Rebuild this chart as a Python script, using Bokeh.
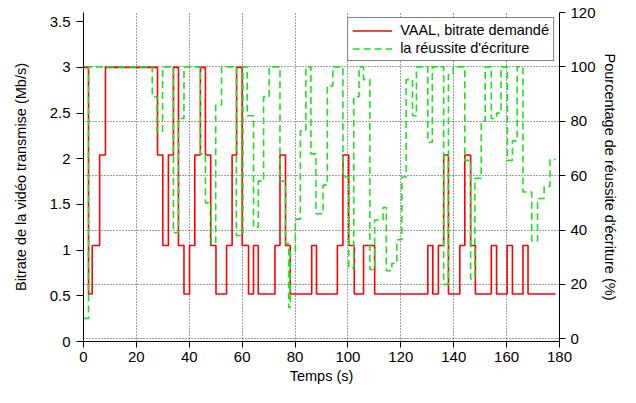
from bokeh.plotting import figure
from bokeh.models import (Range1d, LinearAxis, SingleIntervalTicker, Grid,
                          NumeralTickFormatter, Legend, LegendItem)
from bokeh.embed import file_html
from bokeh.resources import INLINE

# ---------------- data ----------------
# requested bitrate (Mb/s), step changes: time (s) -> level
red_t = [0, 1.9, 3.3, 6.1, 8.3, 28.0, 30.0, 32.1, 34.0, 35.9, 38.0, 40.1, 42.1,
         44.2, 46.1, 48.1, 50.1, 54.1, 56.2, 57.9, 60.0, 62.4, 64.3, 66.1, 72.4,
         74.3, 76.4, 78.2, 86.3, 88.1, 96.0, 98.1, 100.3, 102.4, 105.9, 110.1,
         130.2, 132.1, 134.2, 136.2, 138.0, 142.3, 144.2, 146.4, 148.2, 154.2,
         156.2, 160.2, 162.2, 166.2, 168.1, 178.5]
red_v = [3.0, 0.52, 1.05, 2.04, 3.0, 2.04, 1.05, 2.04, 3.0, 1.05, 0.52, 1.05, 2.04,
         3.0, 2.04, 1.05, 0.52, 1.05, 2.04, 3.0, 1.05, 0.52, 1.05, 0.52, 1.05,
         2.04, 1.05, 0.52, 1.05, 0.52, 1.05, 2.04, 1.05, 0.52, 1.05, 0.52,
         1.05, 0.52, 1.05, 2.04, 0.52, 1.05, 2.04, 1.05, 0.52, 1.05,
         0.52, 1.05, 0.52, 1.05, 0.52, 0.52]

# write success percentage (%), step changes: time (s) -> level
green_t = [0, 1.9, 26.0, 27.8, 29.9, 34.0, 35.9, 38.0, 44.2, 46.1, 48.3, 50.0,
           52.2, 57.8, 60.3, 61.9, 64.3, 66.1, 68.1, 70.2, 74.3, 76.4, 77.6,
           78.2, 80.1, 82.0, 84.1, 86.0, 87.9, 90.6, 92.2, 94.3, 98.1, 100.3,
           102.2, 104.2, 105.9, 108.3, 110.1, 113.3, 114.5, 116.6, 118.5,
           120.4, 122.0, 124.4, 125.9, 130.2, 131.9, 136.2, 138.0, 139.8,
           144.2, 146.4, 148.0, 150.4, 151.9, 154.2, 156.2, 157.9, 160.3,
           162.2, 164.0, 166.2, 169.5, 171.7, 174.2, 176.4, 178.5]
green_v = [7.5, 100, 89, 76, 100, 39, 81, 100, 68, 50, 35, 86,
           100, 38, 100, 82, 41, 58, 89, 100, 58, 35, 11.5,
           32, 44, 76.5, 100, 68, 46, 56.5, 93, 100, 59.5, 26,
           89, 100, 95.3, 25.5, 43.7, 48.3, 25, 27.7, 36.4,
           59.5, 95.3, 82, 100, 72.3, 100, 20, 97.2, 100,
           65.6, 22, 59, 80, 100, 81, 83, 100, 65.6,
           72.8, 100, 54, 36, 51.6, 56, 66, 66]

x_label = "Temps (s)"
y_label = "Bitrate de la vidéo transmise (Mb/s)"
y2_label = "Pourcentage de réussite d'écriture (%)"
legend_labels = ["VAAL, bitrate demandé", "la réussite d'écriture"]

FONT = "Liberation Sans"

p = figure(width=620, height=387, output_backend="svg", toolbar_location=None,
           x_range=Range1d(0, 180), y_range=Range1d(0, 3.6),
           min_border_left=83, min_border_right=58, min_border_top=12,
           min_border_bottom=46)
p.extra_y_ranges = {"pct": Range1d(-1, 120)}
p.outline_line_color = None
p.background_fill_color = "white"
p.border_fill_color = "white"

right = LinearAxis(y_range_name="pct")
p.add_layout(right, "right")

p.xaxis.ticker = SingleIntervalTicker(interval=20, num_minor_ticks=0)
p.yaxis[0].ticker = SingleIntervalTicker(interval=0.5, num_minor_ticks=0)
p.yaxis[0].formatter = NumeralTickFormatter(format="0.[0]")
right_ticker = SingleIntervalTicker(interval=20, num_minor_ticks=0)
right.ticker = right_ticker

p.xaxis.axis_label = x_label
p.yaxis[0].axis_label = y_label
right.axis_label = y2_label

for ax in [p.xaxis[0], p.yaxis[0], right]:
    ax.axis_line_color = "black"
    ax.axis_line_width = 1
    ax.major_tick_line_color = "black"
    ax.major_tick_in = 0
    ax.major_tick_out = 6
    ax.minor_tick_line_color = None
    ax.major_label_text_font = FONT
    ax.major_label_text_font_size = "15px"
    ax.major_label_text_color = "black"
    ax.major_label_text_line_height = 1.0
    ax.axis_label_text_font = FONT
    ax.axis_label_text_font_size = "14.5px"
    ax.axis_label_text_font_style = "normal"
    ax.axis_label_text_color = "black"
    ax.axis_label_text_line_height = 1.0

p.xaxis.major_label_standoff = 4
p.xaxis.axis_label_standoff = 3
p.yaxis[0].major_tick_out = 7
p.yaxis[0].major_label_standoff = 6
p.yaxis[0].axis_label_standoff = 18
right.major_label_standoff = 5
right.axis_label_standoff = 3

# grids: dotted, vertical at x ticks, horizontal at right-axis ticks
p.xgrid.grid_line_color = "black"
p.xgrid.grid_line_alpha = 0.75
p.xgrid.grid_line_dash = "1 2"
p.ygrid.visible = False
p.add_layout(Grid(dimension=1, ticker=right_ticker, y_range_name="pct",
                  grid_line_color="black", grid_line_alpha=0.75,
                  grid_line_dash="1 2"))

r1 = p.step(red_t, red_v, mode="after", line_color="#ff0000", line_width=1.6)
r2 = p.step(green_t, green_v, mode="after", y_range_name="pct",
            line_color="#1ee01e", line_width=1.6, line_dash="7 4")

legend = Legend(items=[LegendItem(label=legend_labels[0], renderers=[r1]),
                       LegendItem(label=legend_labels[1], renderers=[r2])],
                location="top_right")
legend.border_line_color = "black"
legend.border_line_width = 1
legend.background_fill_color = "white"
legend.background_fill_alpha = 1
legend.label_text_font = FONT
legend.label_text_font_size = "14.5px"
legend.label_text_color = "black"
legend.glyph_width = 40
legend.glyph_height = 15
legend.label_height = 15
legend.spacing = 2
legend.padding = 4
legend.margin = 5
legend.label_standoff = 8
p.add_layout(legend)

open("out.html", "w").write(file_html(p, INLINE))
